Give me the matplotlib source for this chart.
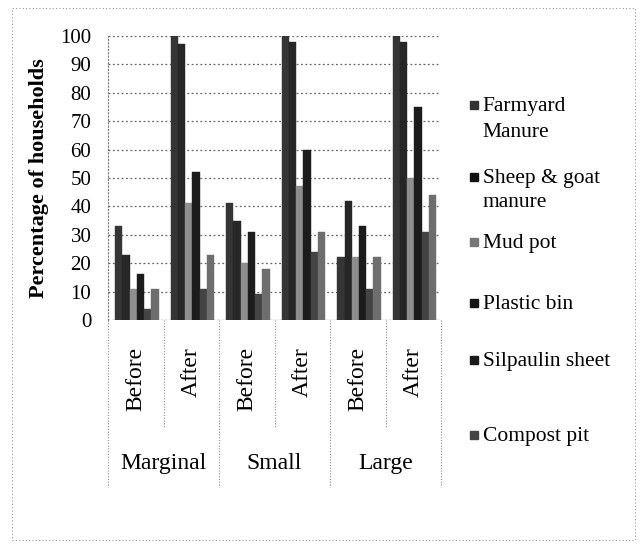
import matplotlib.pyplot as plt
from matplotlib.patches import Rectangle
from matplotlib.lines import Line2D
import numpy as np

plt.rcParams['font.family'] = ['Liberation Serif', 'DejaVu Serif']

groups = ["Marginal", "Small", "Large"]
periods = ["Before", "After"]
series = [["Farmyard", "Manure"], ["Sheep & goat", "manure"], ["Mud pot"],
          ["Plastic bin"], ["Silpaulin sheet"], ["Compost pit"]]
# one value per slot: Marginal Before/After, Small Before/After, Large Before/After
farmyard = [33, 100, 41, 100, 22, 100]
sheep_goat = [23, 97, 35, 98, 42, 98]
mud_pot = [11, 41, 20, 47, 22, 50]
plastic_bin = [16, 52, 31, 60, 33, 75]
silpaulin = [4, 11, 9, 24, 11, 31]
compost = [11, 23, 18, 31, 22, 44]
values = [farmyard, sheep_goat, mud_pot, plastic_bin, silpaulin, compost]
colors = ["#353535", "#262626", "#8e8e8e", "#1c1c1c", "#444444", "#6e6e6e"]
legend_colors = ["#333333", "#111111", "#777777", "#151515", "#1a1a1a", "#444444"]

fig = plt.figure(figsize=(6.43, 5.45), dpi=100)
ax = fig.add_axes([0.168, 0.413, 0.518, 0.521])

x = np.arange(6)
w = 0.13
for k, vals in enumerate(values):
    ax.bar(x - 0.39 + w * k + w / 2 + 0.02, vals, width=w, color=colors[k],
           edgecolor=colors[k], linewidth=0.3, zorder=3)

ax.set_xlim(-0.5, 5.5)
ax.set_ylim(0, 100)
ax.set_yticks(np.arange(0, 101, 10))
ax.tick_params(axis='y', labelsize=15, length=0, pad=12)
ax.set_xticks([])
ax.grid(axis='y', color="#666666", linestyle=(0, (1.5, 2)), linewidth=0.9, zorder=0)
for s in ['top', 'right', 'bottom']:
    ax.spines[s].set_visible(False)
ax.spines['left'].set_linestyle((0, (1, 2)))
ax.spines['left'].set_color("#777777")
ax.axhline(0, color="#777777", linestyle=(0, (1, 2)), linewidth=0.9)

ax.set_ylabel("Percentage of households", fontsize=16, fontweight='bold', labelpad=8)

# two-level category labels below the axis
tr = ax.get_xaxis_transform()
for i in range(6):
    ax.text(i, -0.095, periods[i % 2], transform=tr, rotation=90, ha='center',
            va='top', fontsize=17, clip_on=False)
for b in np.arange(-0.5, 5.6, 1.0):
    bottom = -0.588 if int(round(b + 0.5)) % 2 == 0 else -0.377
    ax.add_line(Line2D([b, b], [0, bottom], transform=tr, color="#888888",
                       linestyle=(0, (1, 1.5)), linewidth=0.8, clip_on=False))
for g, name in enumerate(groups):
    ax.text(2 * g + 0.5, -0.504, name, transform=tr, ha='center', va='center',
            fontsize=17, clip_on=False)

# legend drawn by hand to match the uneven spacing
leg_base = [[0.796, 0.749], [0.664, 0.620], [0.545], [0.433], [0.328], [0.191]]
for lines, c, ys in zip(series, legend_colors, leg_base):
    fig.patches.append(Rectangle((0.731, ys[0] + 0.004), 0.0125, 0.0148,
                                 transform=fig.transFigure, color=c))
    for txt, yy in zip(lines, ys):
        fig.text(0.751, yy, txt, fontsize=15.5, va='baseline')

# faint outer frame of the scanned figure
fig.patches.append(Rectangle((0.019, 0.01), 0.968, 0.975, transform=fig.transFigure,
                             fill=False, edgecolor="#999999", linewidth=0.8,
                             linestyle=(0, (1, 2))))

fig.savefig("out.png", dpi=100)
